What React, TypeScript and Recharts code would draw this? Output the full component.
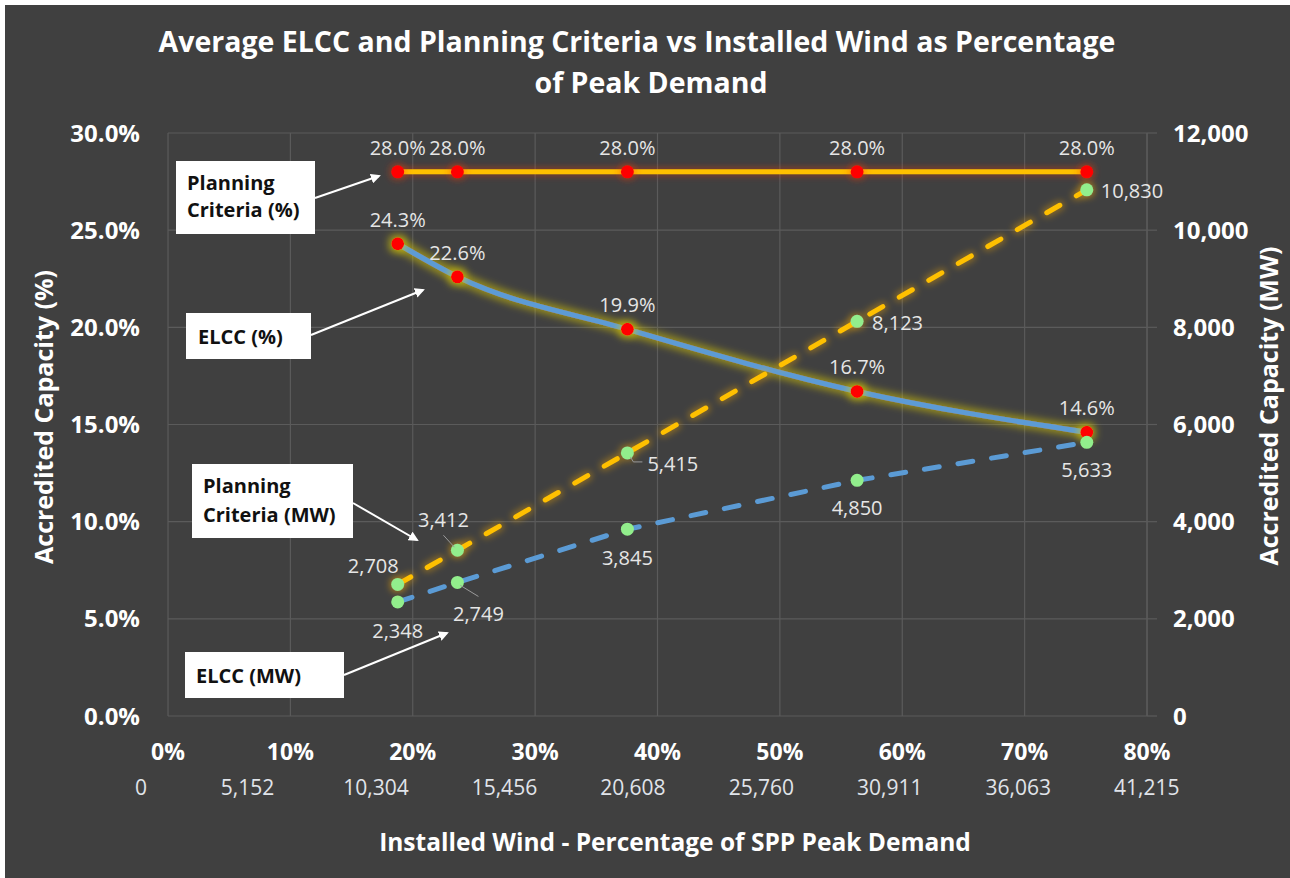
import { ComposedChart, Line, XAxis, YAxis, CartesianGrid } from 'recharts'

// installed wind as % of SPP peak demand (x) and the four series
const INSTALLED_PCT = [18.77, 23.65, 37.54, 56.31, 75.08]
const ELCC_PCT = [24.3, 22.6, 19.9, 16.7, 14.6]
const PLANNING_PCT = [28.0, 28.0, 28.0, 28.0, 28.0]
const ELCC_MW = [2348, 2749, 3845, 4850, 5633]
const PLANNING_MW = [2708, 3412, 5415, 8123, 10830]

const X_TICKS = [0, 10, 20, 30, 40, 50, 60, 70, 80]
const MW_TICK_LABELS = ['0', '5,152', '10,304', '15,456', '20,608', '25,760', '30,911', '36,063', '41,215']
const LEFT_TICKS = [0, 5, 10, 15, 20, 25, 30]
const RIGHT_TICKS = [0, 2000, 4000, 6000, 8000, 10000, 12000]

const rows = INSTALLED_PCT.map((x, i) => ({
  x,
  elccPct: ELCC_PCT[i],
  pcPct: PLANNING_PCT[i],
  elccMw: ELCC_MW[i],
  pcMw: PLANNING_MW[i],
}))

const FONT = '"Open Sans", Lato, sans-serif'
const BG = '#404040'
const GRID = '#5b5b5b'
const LABEL = '#e6e6e6'
const ORANGE = '#FFC000'
const BLUE = '#5B9BD5'
const RED = '#FF0000'
const GREEN = '#92EE8C'

// label placement per point (offset of label from the marker)
const ELCC_MW_PLACE = [
  { dx: 0, dy: 29, anchor: 'middle' },
  { dx: 21, dy: 32, anchor: 'middle', leader: [3, 3, 21, 14] },
  { dx: 0, dy: 29, anchor: 'middle' },
  { dx: 0, dy: 28, anchor: 'middle' },
  { dx: 0, dy: 28, anchor: 'middle' },
]
const PC_MW_PLACE = [
  { dx: 1, dy: -18, anchor: 'end' },
  { dx: -14, dy: -30, anchor: 'middle', leader: [-14, -15, -3, -3] },
  { dx: 20, dy: 11, anchor: 'start', leader: [3, 4, 6, 9, 15, 9] },
  { dx: 15, dy: 2, anchor: 'start' },
  { dx: 14, dy: 1, anchor: 'start' },
]

function Glow({ id, color, opacity, dilate, blur }: any) {
  return (
    <filter id={id} filterUnits="userSpaceOnUse" x={0} y={0} width={1290} height={878}>
      <feMorphology in="SourceAlpha" operator="dilate" radius={dilate} result="d" />
      <feGaussianBlur in="d" stdDeviation={blur} result="b" />
      <feFlood floodColor={color} floodOpacity={opacity} result="c" />
      <feComposite in="c" in2="b" operator="in" result="g" />
      <feMerge>
        <feMergeNode in="g" />
        <feMergeNode in="SourceGraphic" />
      </feMerge>
    </filter>
  )
}

const makeDot = (fill: string, filter?: string) => (p: any) => (
  <circle key={`d-${p.index}`} cx={p.cx} cy={p.cy} r={6.5} fill={fill} filter={filter} />
)

const pctLabel = (p: any) => (
  <text key={`l-${p.index}`} x={p.x} y={p.y - 17} textAnchor="middle" fill={LABEL}
    fontSize={20} fontFamily={FONT}>
    {Number(p.value).toFixed(1)}%
  </text>
)

const mwLabel = (place: any[]) => (p: any) => {
  const s = place[p.index] || { dx: 0, dy: 28, anchor: 'middle' }
  const pts = s.leader
    ? s.leader.map((v: number, i: number) => (i % 2 === 0 ? p.x + v : p.y + v)).join(' ')
    : null
  return (
    <g key={`m-${p.index}`}>
      {pts && <polyline points={pts} fill="none" stroke="#9a9a9a" strokeWidth={1} />}
      <text x={p.x + s.dx} y={p.y + s.dy + 7} textAnchor={s.anchor} fill={LABEL}
        fontSize={20} fontFamily={FONT}>
        {Number(p.value).toLocaleString('en-US')}
      </text>
    </g>
  )
}

function XTick({ x, y, payload }: any) {
  const k = X_TICKS.indexOf(payload.value)
  const mwX = k === 0 ? x - 27 : x - 49 + 6.1 * k
  return (
    <g>
      <text x={x} y={y + 44} textAnchor="middle" fill="#fff" fontWeight={700} fontSize={23}
        fontFamily={FONT}>
        {payload.value}%
      </text>
      <text x={mwX} y={y + 79} textAnchor="middle" fill="#e0e4ea" fontSize={21} fontFamily={FONT}>
        {MW_TICK_LABELS[k]}
      </text>
    </g>
  )
}

function Callout({ x, y, w, h, lines, tx, lineGap, from, to }: any) {
  return (
    <g>
      <rect x={x} y={y} width={w} height={h} fill="#fff" />
      {lines.map((t: string, i: number) => (
        <text key={t} x={tx} y={lines.length === 1 ? y + h / 2 + 8 : y + 29 + i * lineGap}
          fill="#111" fontWeight={700} fontSize={20} fontFamily={FONT}>
          {t}
        </text>
      ))}
      <line x1={from[0]} y1={from[1]} x2={to[0]} y2={to[1]} stroke="#fff" strokeWidth={2}
        markerEnd="url(#arrowHead)" />
    </g>
  )
}

export default function App() {
  return (
    <div style={{
      position: 'absolute', left: 0, top: 0, width: 1290, height: 878,
      background: BG, boxShadow: 'inset 5px 5px 0 #ffffff', fontFamily: FONT,
    }}>
      <ComposedChart width={1290} height={878} data={rows}
        margin={{ top: 133, right: 0, bottom: 102, left: 0 }}>
        <defs>
          <Glow id="glowRed" color="#ff3a00" opacity={0.35} dilate={2} blur={3} />
          <Glow id="glowYellow" color="#e0d000" opacity={0.5} dilate={3} blur={3.5} />
          <Glow id="glowOrange" color="#ffb000" opacity={0.35} dilate={2} blur={3} />
        </defs>
        <CartesianGrid xAxisId="x" yAxisId="pct" stroke={GRID} strokeWidth={1.2} />
        <XAxis xAxisId="x" dataKey="x" type="number" domain={[0, 80]} ticks={X_TICKS}
          height={60} tickSize={0} tickLine={false} axisLine={false} tickMargin={0}
          tick={<XTick />} interval={0} />
        <YAxis yAxisId="pct" orientation="left" domain={[0, 30]} ticks={LEFT_TICKS} width={168}
          tickSize={0} tickMargin={28} tickLine={false} axisLine={false} interval={0}
          tickFormatter={(v: number) => `${v.toFixed(1)}%`}
          tick={{ fill: '#fff', fontSize: 24, fontWeight: 700, fontFamily: FONT }} />
        <YAxis yAxisId="mw" orientation="right" domain={[0, 12000]} ticks={RIGHT_TICKS} width={143}
          tickSize={10} tickMargin={16} interval={0}
          axisLine={{ stroke: GRID, strokeWidth: 1.2 }} tickLine={{ stroke: GRID, strokeWidth: 1.2 }}
          tickFormatter={(v: number) => v.toLocaleString('en-US')}
          tick={{ fill: '#fff', fontSize: 24, fontWeight: 700, fontFamily: FONT, textAnchor: 'start' }} />

        <Line xAxisId="x" yAxisId="pct" dataKey="elccPct" type="monotone" stroke={BLUE}
          strokeWidth={5} filter="url(#glowYellow)" dot={makeDot(RED, 'url(#glowYellow)')}
          activeDot={false} label={pctLabel} isAnimationActive={false} />
        <Line xAxisId="x" yAxisId="pct" dataKey="pcPct" type="linear" stroke={ORANGE}
          strokeWidth={5} filter="url(#glowRed)" dot={makeDot(RED, 'url(#glowRed)')}
          activeDot={false} label={pctLabel} isAnimationActive={false} />
        <Line xAxisId="x" yAxisId="mw" dataKey="elccMw" type="linear" stroke={BLUE}
          strokeWidth={5} strokeDasharray="15 19" strokeLinecap="round" dot={makeDot(GREEN)}
          activeDot={false} label={mwLabel(ELCC_MW_PLACE)} isAnimationActive={false} />
        <Line xAxisId="x" yAxisId="mw" dataKey="pcMw" type="linear" stroke={ORANGE}
          strokeWidth={5} strokeDasharray="15 19" strokeLinecap="round" filter="url(#glowOrange)"
          dot={makeDot(GREEN, 'url(#glowOrange)')} activeDot={false}
          label={mwLabel(PC_MW_PLACE)} isAnimationActive={false} />
      </ComposedChart>

      <svg width={1290} height={878} style={{ position: 'absolute', left: 0, top: 0, pointerEvents: 'none' }}>
        <defs>
          <marker id="arrowHead" markerWidth={10} markerHeight={10} refX={8} refY={5}
            orient="auto" markerUnits="userSpaceOnUse">
            <path d="M0,0 L10,5 L0,10 z" fill="#fff" />
          </marker>
        </defs>
        <text x={637} y={52} textAnchor="middle" fill="#fff" fontWeight={700} fontSize={28.5}
          fontFamily={FONT}>
          Average ELCC and Planning Criteria vs Installed Wind as Percentage
        </text>
        <text x={651} y={93} textAnchor="middle" fill="#fff" fontWeight={700} fontSize={28.5}
          fontFamily={FONT}>
          of Peak Demand
        </text>
        <text x={53} y={417} transform="rotate(-90 53 417)" textAnchor="middle" fill="#fff"
          fontWeight={700} fontSize={25} fontFamily={FONT}>
          Accredited Capacity (%)
        </text>
        <text x={1278} y={406} transform="rotate(-90 1278 406)" textAnchor="middle" fill="#fff"
          fontWeight={700} fontSize={25} fontFamily={FONT}>
          Accredited Capacity (MW)
        </text>
        <text x={675} y={851} textAnchor="middle" fill="#fff" fontWeight={700} fontSize={24.5}
          fontFamily={FONT}>
          Installed Wind - Percentage of SPP Peak Demand
        </text>

        <Callout x={176} y={161} w={139} h={73} tx={187} lineGap={27}
          lines={['Planning', 'Criteria (%)']} from={[315, 198]} to={[379, 176]} />
        <Callout x={186} y={313} w={125} h={46} tx={198}
          lines={['ELCC (%)']} from={[311, 335]} to={[423, 290]} />
        <Callout x={192} y={464} w={161} h={74} tx={203} lineGap={29}
          lines={['Planning', 'Criteria (MW)']} from={[353, 503]} to={[417, 540]} />
        <Callout x={185} y={652} w={159} h={46} tx={196}
          lines={['ELCC (MW)']} from={[344, 675]} to={[447, 633]} />
      </svg>
    </div>
  )
}
